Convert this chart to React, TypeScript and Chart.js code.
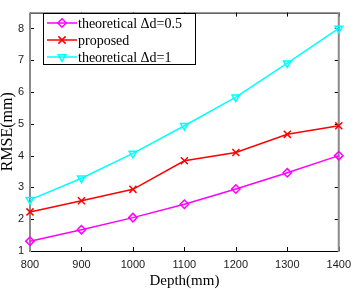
import React, { useEffect, useRef } from "react";
import { Chart, registerables } from "chart.js";

Chart.register(...registerables);

const depths = [800, 900, 1000, 1100, 1200, 1300, 1400];
const theory05 = [1.31, 1.67, 2.05, 2.47, 2.95, 3.46, 4.0];
const proposed = [2.23, 2.58, 2.94, 3.84, 4.1, 4.67, 4.94];
const theory1 = [2.61, 3.29, 4.07, 4.94, 5.84, 6.91, 8.0];
const yTicks = [1, 2, 3, 4, 5, 6, 7, 8];
const xTicks = [800, 900, 1000, 1100, 1200, 1300, 1400];
const seriesNames = ["theoretical \u0394d=0.5", "proposed", "theoretical \u0394d=1"];
const seriesColors = ["#ff00ff", "#ff0000", "#00ffff"];
const seriesMarkers = ["diamond", "x", "tri"];

function drawMarker(ctx: CanvasRenderingContext2D, kind: string, x: number, y: number) {
  ctx.beginPath();
  if (kind === "diamond") {
    const r = 4.2;
    ctx.moveTo(x, y - r);
    ctx.lineTo(x + r, y);
    ctx.lineTo(x, y + r);
    ctx.lineTo(x - r, y);
    ctx.closePath();
  } else if (kind === "x") {
    const r = 3.6;
    ctx.moveTo(x - r, y - r);
    ctx.lineTo(x + r, y + r);
    ctx.moveTo(x + r, y - r);
    ctx.lineTo(x - r, y + r);
  } else {
    const r = 4.4;
    ctx.moveTo(x, y + r);
    ctx.lineTo(x + r * 0.866, y - r * 0.5);
    ctx.lineTo(x - r * 0.866, y - r * 0.5);
    ctx.closePath();
  }
  ctx.stroke();
}

const boxPlugin = {
  id: "matlabBox",
  beforeDatasetsDraw(chart: any) {
    const { ctx, chartArea } = chart;
    const { left, right, top, bottom } = chartArea;
    const xs = chart.scales.x;
    const ys = chart.scales.y;
    ctx.save();
    ctx.strokeStyle = "#000";
    ctx.lineWidth = 1;
    ctx.beginPath();
    ctx.moveTo(left, top + 0.5);
    ctx.lineTo(right, top + 0.5);
    ctx.moveTo(left, bottom + 0.5);
    ctx.lineTo(right, bottom + 0.5);
    for (const t of xTicks) {
      const px = Math.round(xs.getPixelForValue(t)) + 0.5;
      ctx.moveTo(px, bottom);
      ctx.lineTo(px, bottom - 4);
      ctx.moveTo(px, top);
      ctx.lineTo(px, top + 4);
    }
    for (const t of yTicks) {
      const py = Math.round(ys.getPixelForValue(t)) + 0.5;
      ctx.moveTo(left, py);
      ctx.lineTo(left + 4, py);
      ctx.moveTo(right, py);
      ctx.lineTo(right - 4, py);
    }
    ctx.stroke();
    ctx.strokeStyle = "#8a8a8a";
    ctx.lineWidth = 2;
    ctx.beginPath();
    ctx.moveTo(left, top);
    ctx.lineTo(left, bottom + 1);
    ctx.moveTo(right, top);
    ctx.lineTo(right, bottom + 1);
    ctx.stroke();
    ctx.restore();
  },
  afterDraw(chart: any) {
    const { ctx } = chart;
    ctx.save();
    const bx = 43.5, by = 13.5, bw = 152, bh = 51;
    ctx.fillStyle = "#fff";
    ctx.fillRect(bx, by, bw, bh);
    ctx.strokeStyle = "#000";
    ctx.lineWidth = 1;
    ctx.strokeRect(bx, by, bw, bh);
    const rows = [23, 40, 57];
    ctx.font = "14px 'Liberation Serif', 'Times New Roman', serif";
    ctx.textBaseline = "middle";
    ctx.textAlign = "left";
    rows.forEach((ry, i) => {
      ctx.strokeStyle = seriesColors[i];
      ctx.lineWidth = 1.5;
      ctx.beginPath();
      ctx.moveTo(47, ry);
      ctx.lineTo(77, ry);
      ctx.stroke();
      drawMarker(ctx, seriesMarkers[i], 62, ry);
      ctx.fillStyle = "#000";
      ctx.fillText(seriesNames[i], 78, ry + 1);
    });
    ctx.restore();
  },
};

export default function App() {
  const ref = useRef<HTMLCanvasElement | null>(null);
  useEffect(() => {
    if (!ref.current) return;
    const mk = (data: number[], i: number, style: string, radius: number, rotation = 0) => ({
      label: seriesNames[i],
      data: depths.map((d, k) => ({ x: d, y: data[k] })),
      borderColor: seriesColors[i],
      backgroundColor: "rgba(0,0,0,0)",
      borderWidth: 1.5,
      pointStyle: style,
      pointRadius: radius,
      pointBorderWidth: 1.5,
      pointRotation: rotation,
      pointBackgroundColor: "rgba(0,0,0,0)",
      pointBorderColor: seriesColors[i],
      clip: false as any,
      tension: 0,
    });
    const tickFont = { family: "'Liberation Sans', Arial, sans-serif", size: 11 };
    const chart = new Chart(ref.current, {
      type: "line",
      data: {
        datasets: [
          mk(theory05, 0, "rectRot", 4.2),
          mk(proposed, 1, "crossRot", 5),
          mk(theory1, 2, "triangle", 4.4, 180),
        ],
      },
      options: {
        animation: false,
        responsive: false,
        devicePixelRatio: 1,
        layout: { padding: { top: 1, right: 12, left: 0, bottom: 0 } },
        plugins: { legend: { display: false }, tooltip: { enabled: false } },
        scales: {
          x: {
            type: "linear",
            min: 800,
            max: 1400,
            afterFit: (s: any) => { s.height = 38; },
            afterBuildTicks: (s: any) => { s.ticks = xTicks.map((v) => ({ value: v })); },
            grid: { display: false, drawTicks: false },
            border: { display: false },
            ticks: {
              color: "#1a1a1a",
              padding: 7,
              font: tickFont,
              maxRotation: 0,
              callback: (v: any) => String(v),
            },
            title: {
              display: true,
              text: "Depth(mm)",
              color: "#000",
              padding: { top: 0, bottom: 0 },
              font: { family: "'Liberation Serif', 'Times New Roman', serif", size: 15, lineHeight: 1 },
            },
          },
          y: {
            type: "linear",
            min: 1,
            max: 8.5,
            afterFit: (s: any) => { s.width = 30; },
            afterBuildTicks: (s: any) => { s.ticks = yTicks.map((v) => ({ value: v })); },
            grid: { display: false, drawTicks: false },
            border: { display: false },
            ticks: {
              color: "#1a1a1a",
              padding: 6,
              font: tickFont,
              callback: (v: any) => String(v),
            },
            title: {
              display: true,
              text: "RMSE(mm)",
              color: "#000",
              padding: { top: 0, bottom: 0 },
              font: { family: "'Liberation Serif', 'Times New Roman', serif", size: 16, lineHeight: 1 },
            },
          },
        },
      },
      plugins: [boxPlugin],
    } as any);
    return () => chart.destroy();
  }, []);
  return (
    <div style={{ position: "fixed", left: 0, top: 0, width: 358, height: 289, background: "#fff" }}>
      <canvas ref={ref} width={358} height={289} style={{ display: "block" }} />
    </div>
  );
}
